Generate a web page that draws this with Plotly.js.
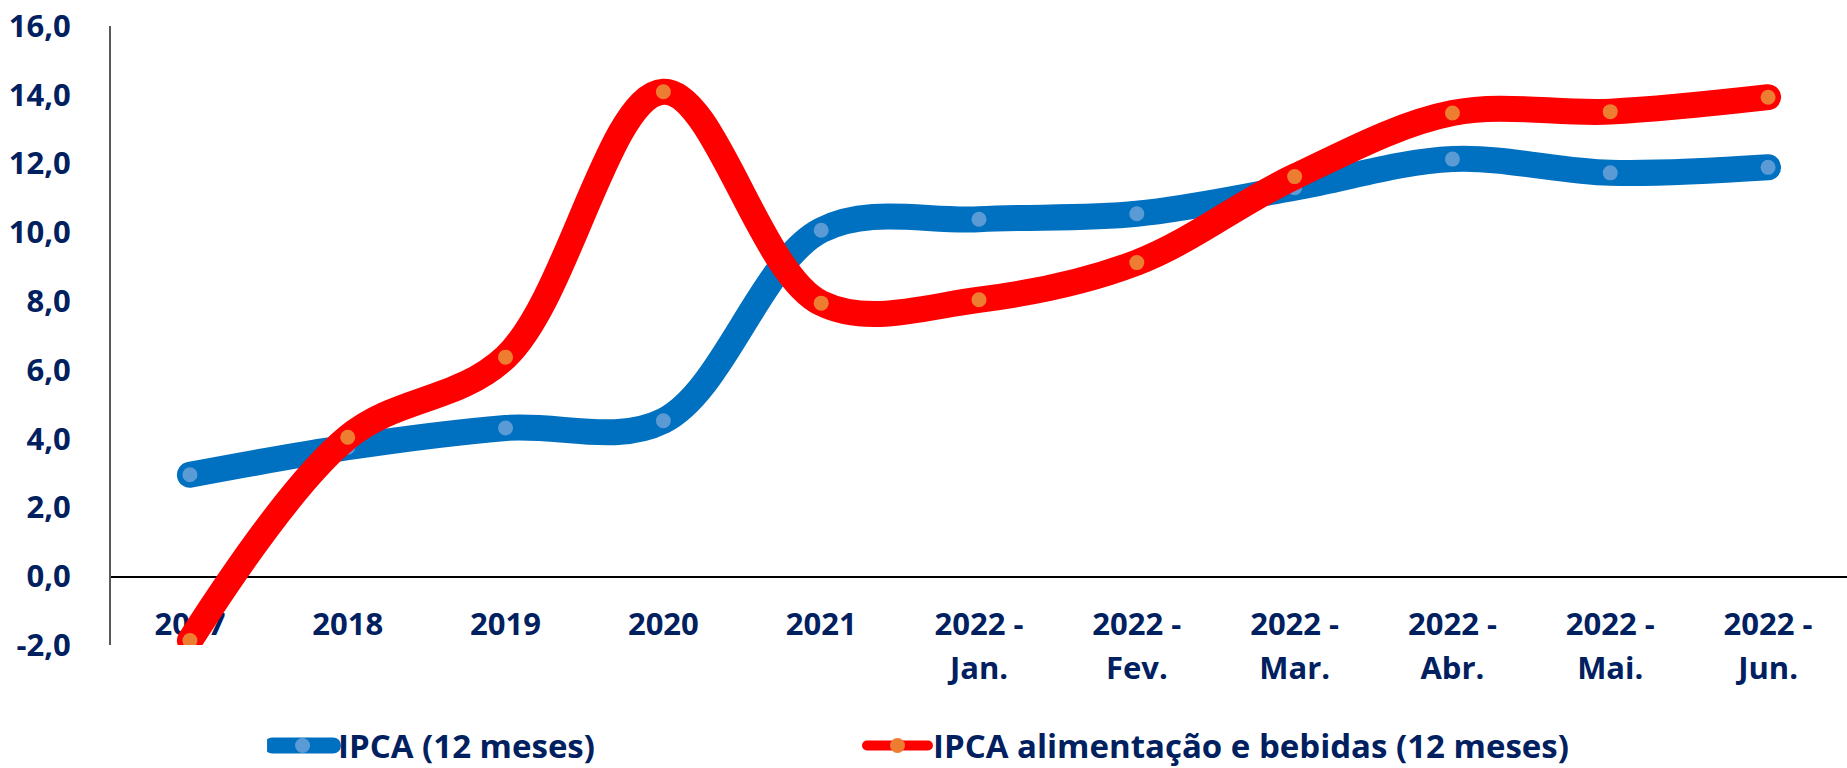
<!DOCTYPE html>
<html>
<head>
<meta charset="utf-8">
<script src="https://cdn.plot.ly/plotly-3.0.1.min.js"></script>
<style>
  html, body { margin: 0; padding: 0; background: #ffffff; }
  #chart { width: 1847px; height: 768px; }
  .js-line { stroke-linecap: round; stroke-linejoin: round; }
  .legend .js-line { stroke-width: 16px !important; }
</style>
</head>
<body>
<div id="chart"></div>
<script>
// ---- data ----
const categories = ['2017', '2018', '2019', '2020', '2021',
  '2022 - Jan.', '2022 - Fev.', '2022 - Mar.', '2022 - Abr.', '2022 - Mai.', '2022 - Jun.'];
const tickLabelsLine1 = ['2017', '2018', '2019', '2020', '2021',
  '2022 -', '2022 -', '2022 -', '2022 -', '2022 -', '2022 -'];
const tickLabelsLine2 = ['', '', '', '', '',
  'Jan.', 'Fev.', 'Mar.', 'Abr.', 'Mai.', 'Jun.'];
const ipca = [2.95, 3.75, 4.31, 4.52, 10.06, 10.38, 10.54, 11.30, 12.13, 11.73, 11.89];
const ipcaAlimentos = [-1.87, 4.04, 6.37, 14.09, 7.94, 8.04, 9.12, 11.62, 13.47, 13.51, 13.93];
const seriesNames = ['IPCA (12 meses)', 'IPCA alimentação e bebidas (12 meses)'];
const yTicks = [-2, 0, 2, 4, 6, 8, 10, 12, 14, 16];

const navy = '#002060';
const fontFamily = '"Open Sans", "Noto Sans", sans-serif';
const tickFont = { family: fontFamily, size: 31, color: navy, weight: 700 };
const legendFont = { family: fontFamily, size: 33, color: navy, weight: 700 };

const traces = [
  {
    x: categories, y: ipca, name: seriesNames[0],
    type: 'scatter', mode: 'lines+markers',
    xaxis: 'x', yaxis: 'y',
    line: { color: '#0070C0', width: 26, shape: 'spline', smoothing: 1 },
    marker: { color: '#5B9BD5', size: 15 },
    legend: 'legend',
    hoverinfo: 'x+y'
  },
  {
    x: categories, y: ipcaAlimentos, name: seriesNames[1],
    type: 'scatter', mode: 'lines+markers',
    xaxis: 'x2', yaxis: 'y',
    line: { color: '#FF0000', width: 26, shape: 'spline', smoothing: 1 },
    marker: { color: '#ED7D31', size: 15 },
    legend: 'legend2',
    hoverinfo: 'x+y'
  }
];

const legendCommon = {
  orientation: 'h',
  xanchor: 'left',
  y: -0.1624, yanchor: 'middle',
  font: legendFont,
  itemwidth: 61,
  bgcolor: 'rgba(0,0,0,0)'
};

const xCommon = {
  type: 'category',
  categoryorder: 'array', categoryarray: categories,
  range: [-0.5, 10.5],
  anchor: 'free', position: 2 / 18,
  tickmode: 'array', tickvals: categories,
  tickfont: tickFont,
  ticks: '', ticklen: 0,
  showgrid: false, zeroline: false,
  layer: 'below traces',
  automargin: false,
  fixedrange: true
};

const layout = {
  width: 1847, height: 768,
  margin: { l: 111, r: 0, t: 26, b: 123, pad: 0, autoexpand: false },
  paper_bgcolor: '#ffffff', plot_bgcolor: '#ffffff',
  font: { family: fontFamily, color: navy, size: 31, weight: 700 },
  showlegend: true,
  legend: Object.assign({}, legendCommon, { x: 0.0899 }),
  legend2: Object.assign({}, legendCommon, { x: 0.4326 }),
  xaxis: Object.assign({}, xCommon, {
    ticktext: tickLabelsLine1,
    ticklabelstandoff: 20,
    showline: true, linecolor: '#000000', linewidth: 1.5
  }),
  xaxis2: Object.assign({}, xCommon, {
    overlaying: 'x',
    ticktext: tickLabelsLine2,
    ticklabelstandoff: 71,
    showline: false
  }),
  yaxis: {
    range: [-2, 16],
    tickmode: 'array', tickvals: yTicks,
    ticktext: yTicks.map(v => v.toFixed(1).replace('.', ',')),
    tickfont: tickFont,
    ticks: '', ticklen: 0,
    ticklabelstandoff: 32,
    showgrid: false, zeroline: false,
    showline: true, linecolor: '#595959', linewidth: 2,
    layer: 'below traces',
    automargin: false,
    fixedrange: true
  }
};

Plotly.newPlot('chart', traces, layout, { displayModeBar: false, staticPlot: true });
</script>
</body>
</html>
